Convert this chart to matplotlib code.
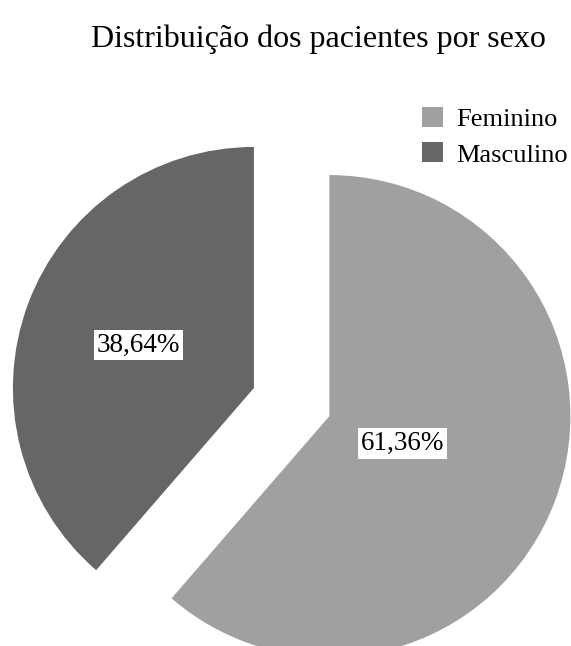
import matplotlib.pyplot as plt
import numpy as np

# DATA ------------------------------------------------------
categorias = ["Feminino", "Masculino"]
percentuais = [61.36, 38.64]
cores = ["#a0a0a0", "#666666"]

plt.rcParams["font.family"] = ["Liberation Serif", "DejaVu Serif"]

fig = plt.figure(figsize=(5.71, 6.46), dpi=100)
ax = fig.add_axes([0, 0, 1, 1])

wedges, _ = ax.pie(percentuais, colors=cores, startangle=90, counterclock=False,
                   explode=[0.167, 0.167], radius=1)

# value labels in white boxes, distance from each slice's own centre
dist_rotulo = [0.325, 0.51]
for w, valor, d in zip(wedges, percentuais, dist_rotulo):
    ang = np.deg2rad((w.theta1 + w.theta2) / 2)
    cx, cy = w.center
    ax.text(cx + d * np.cos(ang), cy + d * np.sin(ang),
            f"{valor:.2f}%".replace(".", ","), ha="center", va="center",
            fontsize=19.5, bbox=dict(facecolor="white", edgecolor="none", pad=2))

ax.set_aspect("auto")
ax.set_xlim(-1.210, 1.159)
ax.set_ylim(-1.012, 1.668)
ax.axis("off")

fig.text(0.557, 0.94, "Distribuição dos pacientes por sexo", ha="center",
         va="center", fontsize=23)
fig.legend(wedges, categorias, loc="upper left", bbox_to_anchor=(0.739, 0.834),
           bbox_transform=fig.transFigure, frameon=False, fontsize=19,
           handlelength=0.78, handleheight=0.78, handletextpad=0.5,
           labelspacing=0.42, borderpad=0, borderaxespad=0)

fig.savefig("out.png", dpi=100)
